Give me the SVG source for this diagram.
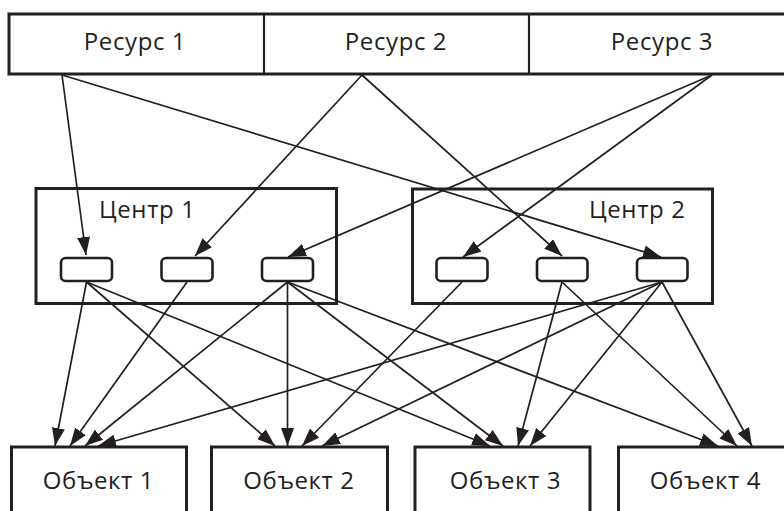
<svg xmlns="http://www.w3.org/2000/svg" width="784" height="511" viewBox="0 0 784 511">
<style>
.box{fill:#fff;stroke:#231f20;stroke-width:3}
.small{fill:#fff;stroke:#231f20;stroke-width:2.6}
.div{stroke:#231f20;stroke-width:2.2}
.edge{stroke:#231f20;stroke-width:1.7;fill:none;marker-end:url(#ah)}
.lbl{font-family:"Open Sans","DejaVu Sans",sans-serif;font-size:24px;letter-spacing:0.6px;fill:#231f20}
.mid{text-anchor:middle}
</style>
<defs>
<marker id="ah" viewBox="0 0 18 13" refX="18" refY="6.5" markerWidth="18" markerHeight="13" markerUnits="userSpaceOnUse" orient="auto">
<path d="M0,0 L18,6.5 L0,13 z" fill="#231f20"/>
</marker>
</defs>
<rect width="784" height="511" fill="#fff"/>
<g id="resources">
<rect class="box" x="9" y="14" width="790" height="60"/>
<line class="div" x1="264" y1="14" x2="264" y2="74"/>
<line class="div" x1="529" y1="14" x2="529" y2="74"/>
</g>
<g id="res1"><text class="lbl mid" x="135" y="50">Ресурс 1</text></g>
<g id="res2"><text class="lbl mid" x="396" y="50">Ресурс 2</text></g>
<g id="res3"><text class="lbl mid" x="662" y="50">Ресурс 3</text></g>
<g id="center1">
<rect class="box" x="36" y="188.5" width="300.5" height="115"/>
<text class="lbl" x="99" y="218">Центр 1</text>
</g>
<g id="center2">
<rect class="box" x="412.5" y="189" width="300" height="114.5"/>
<text class="lbl" x="589" y="218">Центр 2</text>
</g>
<g id="port1"><rect class="small" x="61" y="258" width="51" height="23" rx="4.5"/></g>
<g id="port2"><rect class="small" x="161.5" y="258" width="51" height="23" rx="4.5"/></g>
<g id="port3"><rect class="small" x="262" y="258" width="51" height="23" rx="4.5"/></g>
<g id="port4"><rect class="small" x="436.5" y="258" width="51" height="23" rx="4.5"/></g>
<g id="port5"><rect class="small" x="537" y="258" width="50.5" height="23" rx="4.5"/></g>
<g id="port6"><rect class="small" x="637" y="258" width="50.5" height="23" rx="4.5"/></g>
<g id="obj1"><rect class="box" x="11.5" y="447" width="175" height="80"/><text class="lbl mid" x="98.5" y="489">Объект 1</text></g>
<g id="obj2"><rect class="box" x="211.5" y="447" width="176" height="80"/><text class="lbl mid" x="299" y="489">Объект 2</text></g>
<g id="obj3"><rect class="box" x="415" y="447" width="175" height="80"/><text class="lbl mid" x="505.5" y="489">Объект 3</text></g>
<g id="obj4"><rect class="box" x="618.5" y="447" width="180" height="80"/><text class="lbl mid" x="705.5" y="489">Объект 4</text></g>
<g id="connectors">
<line class="edge" x1="62" y1="75" x2="86" y2="255"/>
<line class="edge" x1="62" y1="75" x2="661" y2="257"/>
<line class="edge" x1="362" y1="75" x2="195" y2="256"/>
<line class="edge" x1="362" y1="75" x2="562" y2="256"/>
<line class="edge" x1="712" y1="75" x2="288" y2="257"/>
<line class="edge" x1="712" y1="75" x2="463" y2="257"/>
<line class="edge" x1="86.5" y1="282" x2="55" y2="446"/>
<line class="edge" x1="86.5" y1="282" x2="275" y2="446"/>
<line class="edge" x1="86.5" y1="282" x2="490" y2="446"/>
<line class="edge" x1="187" y1="282" x2="70" y2="446"/>
<line class="edge" x1="287.5" y1="282" x2="85" y2="446"/>
<line class="edge" x1="287.5" y1="282" x2="287.5" y2="446"/>
<line class="edge" x1="287.5" y1="282" x2="503" y2="446"/>
<line class="edge" x1="287.5" y1="282" x2="718" y2="446"/>
<line class="edge" x1="462" y1="282" x2="302" y2="446"/>
<line class="edge" x1="562" y1="282" x2="518" y2="446"/>
<line class="edge" x1="562" y1="282" x2="737" y2="446"/>
<line class="edge" x1="662" y1="282" x2="98" y2="446"/>
<line class="edge" x1="662" y1="282" x2="322" y2="446"/>
<line class="edge" x1="662" y1="282" x2="530" y2="446"/>
<line class="edge" x1="662" y1="282" x2="752" y2="446"/>
</g>
</svg>
